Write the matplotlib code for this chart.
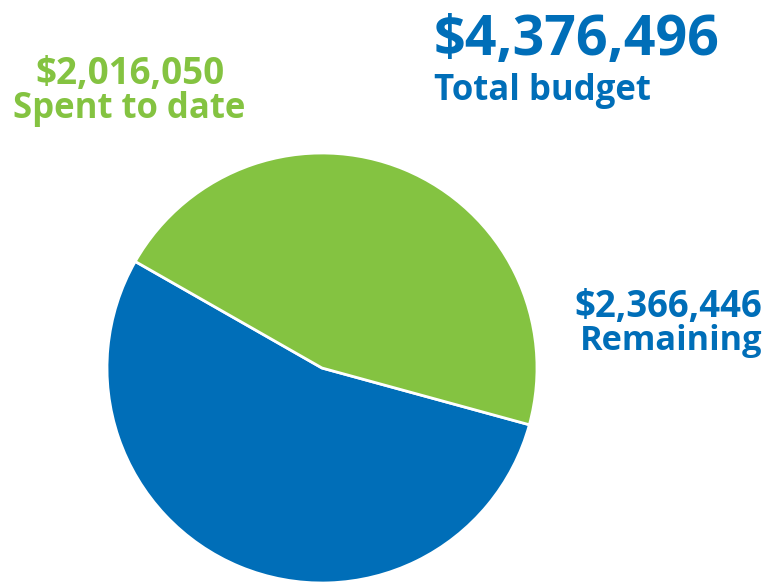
import matplotlib.pyplot as plt

# --------------------- data ---------------------
labels = ["Remaining", "Spent to date"]
amounts = [2366446, 2016050]
total = 4376496
colors = ["#006EB8", "#84C341"]

W, H = 767, 584
fig = plt.figure(figsize=(W / 100, H / 100), dpi=100)
ax = fig.add_axes([0, 0, 1, 1])
ax.set_xlim(0, W)
ax.set_ylim(0, H)
ax.set_aspect("equal")
ax.axis("off")

# pie centre/radius in pixel units (y measured from bottom)
ax.pie(amounts, colors=colors, startangle=150.3, counterclock=True,
       center=(322, H - 368), radius=215,
       wedgeprops=dict(edgecolor="white", linewidth=2))
ax.set_xlim(0, W)
ax.set_ylim(0, H)

font = "Open Sans"
blue, green = colors

def money(v):
    return f"${v:,}"

ax.text(434, H - 55, money(total), color=blue, fontsize=40, fontweight="bold",
        family=font, ha="left", va="baseline")
ax.text(434, H - 100, "Total budget", color=blue, fontsize=25, fontweight="bold",
        family=font, ha="left", va="baseline")

ax.text(130, H - 84, money(amounts[1]), color=green, fontsize=26.5, fontweight="bold",
        family=font, ha="center", va="baseline")
ax.text(129, H - 118, labels[1], color=green, fontsize=25, fontweight="bold",
        family=font, ha="center", va="baseline")

ax.text(762, H - 317, money(amounts[0]), color=blue, fontsize=26.3, fontweight="bold",
        family=font, ha="right", va="baseline")
ax.text(762, H - 350, labels[0], color=blue, fontsize=24.7, fontweight="bold",
        family=font, ha="right", va="baseline")

fig.savefig("out.png", dpi=100)
